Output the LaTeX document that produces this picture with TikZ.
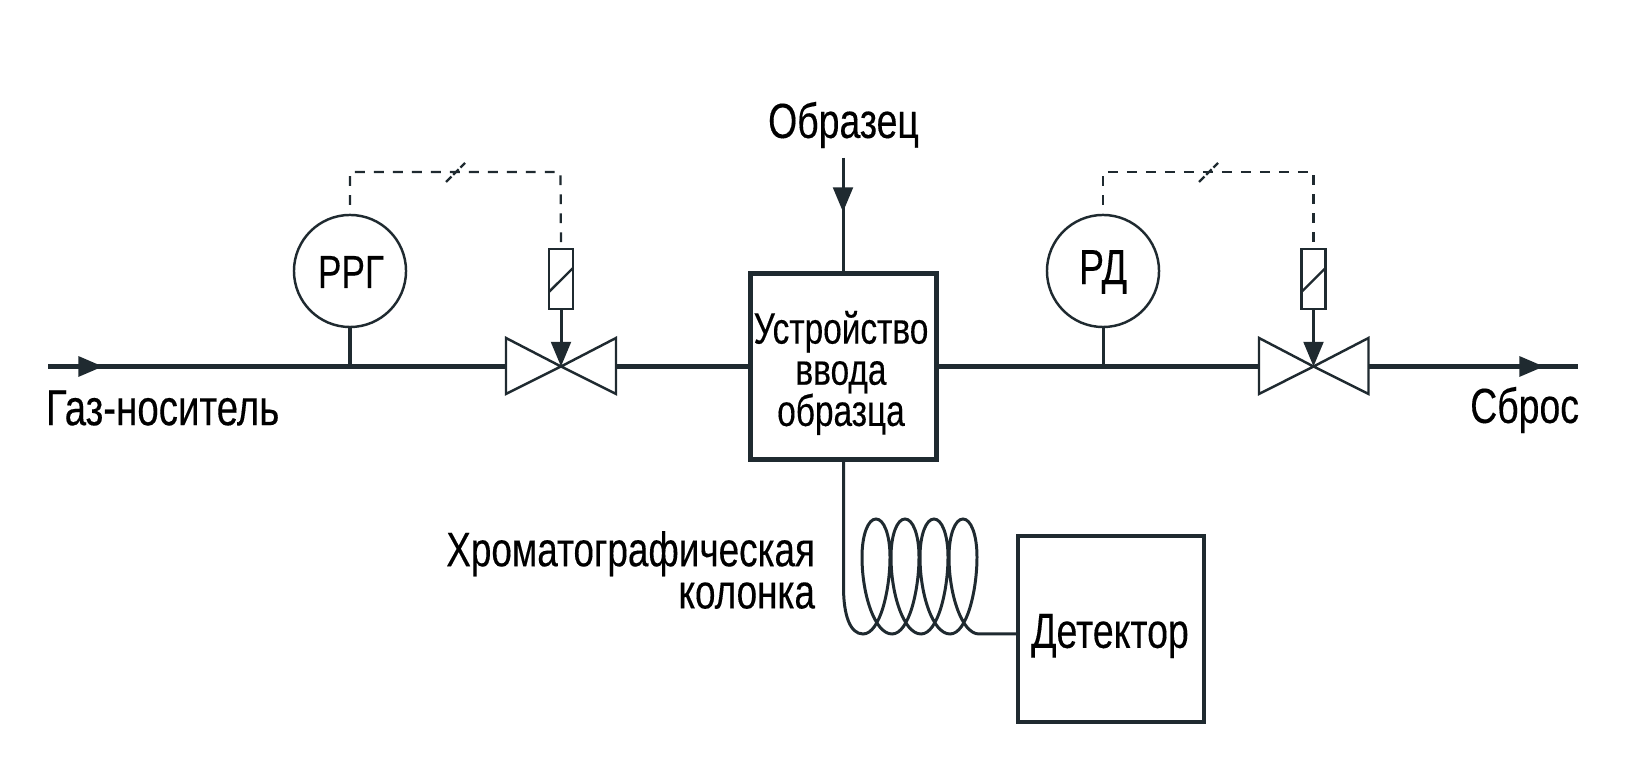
\documentclass[tikz,border=0pt]{standalone}
\usepackage{fontspec}
\setmainfont[FakeStretch=0.76,FakeBold=0.25]{Liberation Sans}
\usepackage{xcolor}
\usetikzlibrary{positioning,arrows.meta}
\definecolor{ink}{HTML}{1F2A30}
\tikzset{
  pipe/.style={draw=ink,line width=1.15pt},
  thin pipe/.style={draw=ink,line width=0.85pt},
  outline/.style={draw=ink,line width=0.7pt},
  signal/.style={draw=ink,line width=0.65pt,dash pattern=on 2.8pt off 2.6pt},
  head/.style={-{Triangle[length=7pt,width=5.6pt]}},
  gauge/.style={draw=ink,line width=0.7pt,circle,minimum size=1.12cm,inner sep=0pt,outer sep=0pt},
  solenoid/.style={draw=ink,line width=0.7pt,minimum width=0.24cm,minimum height=0.6cm,inner sep=0pt,outer sep=0pt},
  block/.style={draw=ink,line width=1.35pt,minimum size=1.86cm,inner sep=0pt,outer sep=0pt,align=center},
  label/.style={inner sep=0pt,outer sep=0pt,font=\fontsize{14}{12.1}\selectfont,text=black}
}
\begin{document}
\begin{tikzpicture}[x=0.01cm,y=-0.01cm]
  \useasboundingbox (0,0) rectangle (1633,774);
  % main blocks
  \node[block] (inlet) at (843.5,366.5) {};
  \node[block] (detector) at (1111,629) {};
  \node[gauge] (rrg) at (350,271) {};
  \node[gauge] (rd) at (1103,271) {};
  \node[solenoid] (solL) at (561,279) {};
  \node[solenoid] (solR) at (1313.5,279) {};
  % texts
  \node[label,font=\fontsize{13.2}{12.1}\selectfont] (rrgtext) at (351,272) {РРГ};
  \node[label] (rdtext) at (1103,272) {РД};
  \node[label,align=center,font=\fontsize{12.5}{11.7}\selectfont] (inlettext) at (841,373) {Устройство\\ввода\\образца};
  \node[label] (dettext) at (1110,636) {Детектор};
  \node[label] (sample) at (843.5,125) {Образец};
  \node[label,anchor=west,font=\fontsize{14.4}{12.1}\selectfont] (gas) at (46,408) {Газ-носитель};
  \node[label,anchor=east] (vent) at (1579,410) {Сброс};
  \node[label,anchor=east,align=right,font=\fontsize{13.8}{12}\selectfont] (column) at (815,570) {Хроматографическая\\колонка};
  % points on the line
  \coordinate (start) at (48,366.5);
  \coordinate (startTip) at (103,366.5);
  \coordinate (stop) at (1578,366.5);
  \coordinate (stopTip) at (1544,366.5);
  \coordinate (rrgFoot) at (350,366.5);
  \coordinate (rdFoot) at (1103,366.5);
  \coordinate (valveL) at (561,366.5);
  \coordinate (valveR) at (1313.5,366.5);
  \coordinate (valveLa) at (506,366.5);
  \coordinate (valveLb) at (616,366.5);
  \coordinate (valveRa) at (1259,366.5);
  \coordinate (valveRb) at (1368.5,366.5);
  \coordinate (sampleTop) at (843,158);
  \coordinate (sampleTip) at (843,212);
  % pipeline
  \draw[pipe] (start) -- (valveLa);
  \draw[pipe,head] (start) -- (startTip);
  \draw[pipe] (rrg.south) -- (rrgFoot);
  \draw[pipe] (valveLb) -- (inlet.west);
  \draw[pipe] (inlet.east) -- (valveRa);
  \draw[thin pipe] (rd.south) -- (rdFoot);
  \draw[pipe] (valveRb) -- (stop);
  \draw[pipe,head] (valveRb) -- (stopTip);
  \draw[thin pipe] (sampleTop) -- (sampleTop |- inlet.north);
  \draw[thin pipe,head] (sampleTop) -- (sampleTip);
  % valves
  \draw[outline,line join=miter] (valveL) -- (506,338) -- (506,394) -- cycle;
  \draw[outline,line join=miter] (valveL) -- (616,338) -- (616,394) -- cycle;
  \draw[outline,line join=miter] (valveR) -- (1259,338) -- (1259,394) -- cycle;
  \draw[outline,line join=miter] (valveR) -- (1368.5,338) -- (1368.5,394) -- cycle;
  \draw[thin pipe,head] (solL.south) -- (valveL);
  \draw[thin pipe,head] (solR.south) -- (valveR);
  \draw[outline] (solL.west |- 0,292) -- (solL.east |- 0,268);
  \draw[outline] (solR.west |- 0,292) -- (solR.east |- 0,268);
  % signal lines
  \draw[signal] (350,205) -- (350,172) -- (560.5,172) -- (solL.north);
  \draw[signal] (1103,205) -- (1103,172) -- (1313.5,172) -- (solR.north);
  \draw[signal,dash pattern=on 2.2pt off 0.7pt] (446,182) -- (465,163);
  \draw[signal,dash pattern=on 2.2pt off 0.7pt] (1199,182) -- (1218,163);
  % column
  \coordinate (tubeEnd) at (979,634);
  \draw[thin pipe] (inlet.south) -- (843.5,587)
    .. controls (843.5,615) and (850,634) .. (863,634)
    .. controls (880,634) and (890,590) .. (890,557)
    .. controls (890,535) and (884,519) .. (876,519)
    .. controls (868,519) and (862,535) .. (862,557)
    .. controls (862,595) and (875,634) .. (892,634)
    .. controls (909,634) and (919,590) .. (919,557)
    .. controls (919,535) and (913,519) .. (905,519)
    .. controls (897,519) and (891,535) .. (891,557)
    .. controls (891,595) and (904,634) .. (921,634)
    .. controls (938,634) and (948,590) .. (948,557)
    .. controls (948,535) and (942,519) .. (934,519)
    .. controls (926,519) and (920,535) .. (920,557)
    .. controls (920,595) and (933,634) .. (950,634)
    .. controls (967,634) and (977,590) .. (977,557)
    .. controls (977,535) and (971,519) .. (963,519)
    .. controls (955,519) and (949,535) .. (949,557)
    .. controls (949,595) and (962,634) .. (tubeEnd)
    -- (tubeEnd -| detector.west);
\end{tikzpicture}
\end{document}
